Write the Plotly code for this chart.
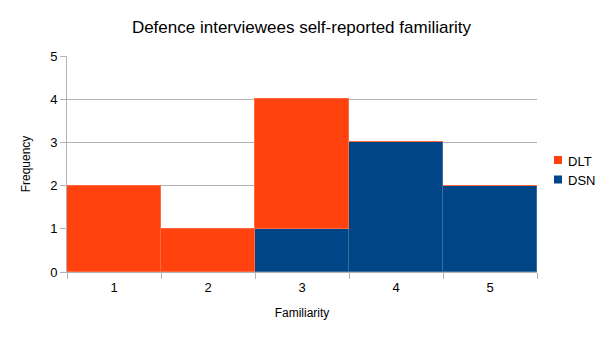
import plotly.graph_objects as go

categories = ["1", "2", "3", "4", "5"]
dlt = [2, 1, 3, 0, 0]
dsn = [0, 0, 1, 3, 2]
y_ticks = [0, 1, 2, 3, 4, 5]
series_names = ["DLT", "DSN"]

DLT_COLOR = "#ff420e"
DSN_COLOR = "#004586"

fig = go.Figure()
fig.add_trace(go.Bar(x=categories, y=dsn, name="DSN", showlegend=False,
                     marker=dict(color=DSN_COLOR, line=dict(color="#3a6e9e", width=1))))
fig.add_trace(go.Bar(x=categories, y=dlt, name="DLT", showlegend=False,
                     marker=dict(color=DLT_COLOR, line=dict(color="#ff6a40", width=1))))

# page body has an 8px margin, so the figure is drawn 8px in from the corner
W, H = 597, 332
L, R, T, B = 59, 68, 48, 68
PW, PH = W - L - R, H - T - B

def px(x):
    return (x - L) / PW

def py(y):
    return (H - B - y) / PH

# legend drawn as small squares and labels on the right
for i, (name, col) in enumerate(zip(series_names, [DLT_COLOR, DSN_COLOR])):
    cy = 152 + i * 19.5
    fig.add_shape(type="rect", xref="paper", yref="paper",
                  x0=px(546), x1=px(554), y0=py(cy + 4), y1=py(cy - 4),
                  fillcolor=col, line=dict(width=0))
    fig.add_annotation(text=name, xref="paper", yref="paper", x=px(558), y=py(cy + 1),
                       xanchor="left", yanchor="middle", showarrow=False,
                       font=dict(size=13))

font = "Liberation Sans, Arial, sans-serif"
fig.update_layout(
    width=W, height=H,
    barmode="stack", bargap=0,
    paper_bgcolor="white", plot_bgcolor="white",
    margin=dict(l=L, r=R, t=T, b=B, autoexpand=False),
    font=dict(family=font, size=12, color="#000000"),
    title=dict(text="Defence interviewees self-reported familiarity",
               x=293.5 / W, xanchor="center", yref="container", y=1 - 19 / H, yanchor="middle",
               font=dict(size=17, family=font)),
    showlegend=False,
)
fig.update_xaxes(
    type="category", tickson="boundaries", ticks="outside", ticklen=6,
    tickcolor="#b3b3b3", showline=True, linecolor="#b3b3b3", linewidth=1,
    showgrid=False, tickfont=dict(size=13), ticklabelstandoff=3,
    title=dict(text="Familiarity", font=dict(size=12), standoff=15),
)
fig.update_yaxes(
    range=[0, 5], tickvals=y_ticks, ticks="outside", ticklen=6,
    tickcolor="#b3b3b3", showline=True, linecolor="#b3b3b3", linewidth=1,
    showgrid=True, gridcolor="#b3b3b3", gridwidth=1, zeroline=False,
    tickfont=dict(size=13),
    title=dict(text="Frequency", font=dict(size=12), standoff=16),
)

fig.write_html("out.html")
